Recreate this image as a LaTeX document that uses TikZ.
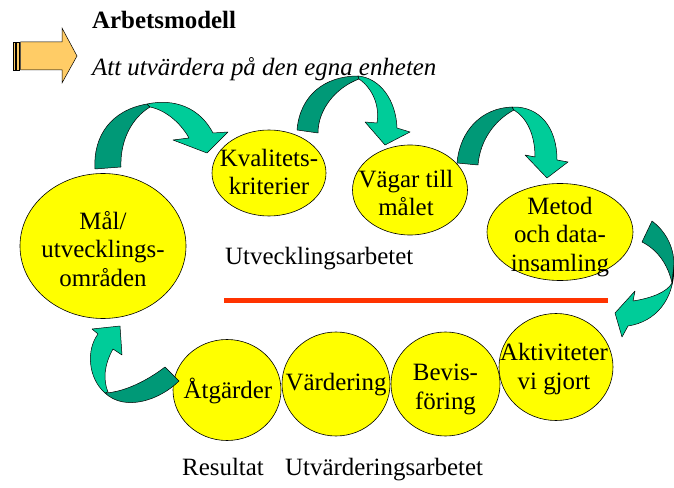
\documentclass[tikz,border=0pt]{standalone}
\usepackage{fontspec}
\setmainfont{Liberation Serif}
\usetikzlibrary{shapes.geometric}
\definecolor{tealdark}{HTML}{009977}
\definecolor{teallight}{HTML}{00CC99}
\definecolor{bubfill}{HTML}{FFFF00}
\definecolor{redline}{HTML}{FF3300}
\definecolor{orangefill}{HTML}{FFCC66}
\begin{document}
\begin{tikzpicture}[x=1bp,y=-1bp,
  bub/.style={ellipse, draw=black, line width=0.6bp, fill=bubfill, inner sep=0pt},
  btxt/.style={align=center, inner sep=0pt, font=\fontsize{25}{29}\selectfont},
  dk/.style={fill=tealdark, draw=black, line width=0.5bp, line join=round},
  lt/.style={fill=teallight, draw=black, line width=0.5bp, line join=round},
  lbl/.style={font=\fontsize{25}{28}\selectfont, inner sep=0pt, anchor=base west}]
\useasboundingbox (0,0) rectangle (674,488);

% header arrow
\draw[fill=orangefill, line width=0.5bp] (13.3,42) rectangle (15.3,70);
\draw[fill=orangefill, line width=0.5bp] (16.7,42) rectangle (18.9,70);
\draw[fill=orangefill, line width=0.5bp, line join=miter] (20.5,42) -- (62,42) -- (62,28) -- (77,56) -- (62,83) -- (62,70) -- (20.5,70) -- cycle;
\node[lbl, font=\fontsize{25}{28}\selectfont\bfseries] (title) at (92,29) {Arbetsmodell};
\node[lbl, font=\fontsize{25}{28}\selectfont\itshape] (sub) at (92,76) {Att utvärdera på den egna enheten};

% bubbles
\node[bub, minimum width=166bp, minimum height=145bp] (mal) at (103,246) {};
\node[btxt] (malt) at (103,249) {Mål/\\utvecklings-\\områden};
\node[bub, minimum width=114bp, minimum height=86bp] (kval) at (269,173) {};
\node[btxt] (kvalt) at (269,172) {Kvalitets-\\kriterier};
\node[bub, minimum width=115bp, minimum height=90bp] (vag) at (410,190) {};
\node[btxt] (vagt) at (406,193) {Vägar till\\målet};
\node[bub, minimum width=146bp, minimum height=97bp] (met) at (560,232) {};
\node[btxt] (mett) at (560,237) {Metod\\och data-\\insamling};
\node[bub, minimum width=108bp, minimum height=101bp] (atg) at (227,390) {};
\node[btxt] (atgt) at (228,391) {Åtgärder};
\node[bub, minimum width=108bp, minimum height=104bp] (var) at (336,384) {};
\node[btxt] (vart) at (336,385) {Värdering};
\node[bub, minimum width=109bp, minimum height=104bp] (bev) at (445.5,384) {};
\node[btxt] (bevt) at (445.5,389) {Bevis-\\föring};
\node[bub, minimum width=114bp, minimum height=107bp] (akt) at (556,367) {};
\node[btxt] (aktt) at (554,369) {Aktiviteter\\vi gjort};

% labels and line
\node[lbl] (utv) at (225,265) {Utvecklingsarbetet};
\coordinate (rl) at (224,300);
\coordinate (rr) at (608,300);
\draw[redline, line width=5bp] (rl) -- (rr);
\node[lbl] (res) at (182,475) {Resultat};
\node[lbl] (utvar) at (285,475) {Utvärderingsarbetet};

% arrow 1: mal -> kval
\draw[dk] (95,169) .. controls (93,135) and (112,110) .. (147,104) -- (150,107) .. controls (132,118) and (120,140) .. (121,167) -- cycle;
\draw[lt] (147,104) .. controls (175,98) and (200,108) .. (213,133) -- (228,132) -- (207,153) -- (173,140) -- (189,138) .. controls (180,122) and (165,110) .. (150,107) -- cycle;

% arrow 2: kval -> vag
\draw[dk] (297,130) .. controls (300,95) and (325,76) .. (358,76) -- (359,79) .. controls (335,88) and (318,110) .. (318,133) -- cycle;
\draw[lt] (358,76) .. controls (380,78) and (396,100) .. (397,128) -- (410,132) -- (385,145) -- (365,122) -- (377,123) .. controls (380,105) and (372,88) .. (359,79) -- cycle;

% arrow 3: vag -> met
\draw[dk] (457,163) .. controls (460,130) and (482,108) .. (512,107) -- (514,110) .. controls (495,120) and (480,140) .. (478,165) -- cycle;
\draw[lt] (512,107) .. controls (540,106) and (557,128) .. (557,160) -- (568,162) -- (547,178) -- (525,155) -- (535,157) .. controls (535,135) and (527,118) .. (514,110) -- cycle;

% arrow 4: met -> akt
\draw[dk] (652,221) .. controls (664,230) and (674,245) .. (674,265) -- (672,283) .. controls (668,265) and (658,250) .. (642,242) -- cycle;
\draw[lt] (674,265) .. controls (675,300) and (655,322) .. (628,326) -- (622,337) -- (615,313) -- (635,291) -- (633,301) .. controls (652,298) and (667,292) .. (672,283) -- cycle;

% arrow 5: atg -> mal
\draw[dk] (165,367) -- (179,381) .. controls (160,400) and (125,412) .. (105,393) .. controls (125,392) and (148,380) .. (165,367) -- cycle;
\draw[lt] (105,393) .. controls (88,378) and (86,350) .. (98,334) -- (92,329) -- (120,326) -- (122,355) -- (113,349) .. controls (104,365) and (103,380) .. (108,392) -- cycle;
\end{tikzpicture}
\end{document}
